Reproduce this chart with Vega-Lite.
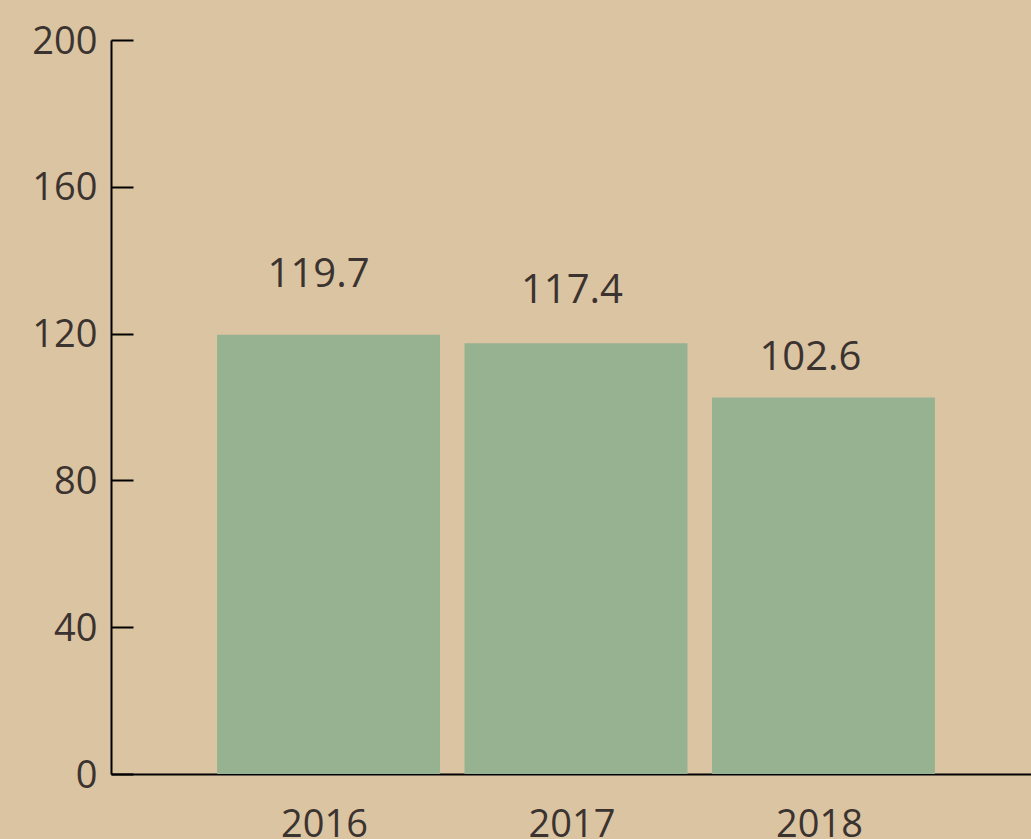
{
  "$schema": "https://vega.github.io/schema/vega-lite/v6.json",
  "autosize": {"type": "none"},
  "padding": {"left": 111, "top": 40, "right": 0, "bottom": 65},
  "width": 930,
  "height": 734,
  "background": "#DBC4A2",
  "config": {
    "view": {"stroke": null},
    "font": "Open Sans",
    "axis": {"grid": false, "domainColor": "#000000", "domainWidth": 2, "tickColor": "#000000", "tickWidth": 2, "labelColor": "#3B3330", "labelFont": "Open Sans", "labelFontSize": 38, "title": null}
  },
  "data": {
    "values": [
      {"year": "2016", "value": 119.7},
      {"year": "2017", "value": 117.4},
      {"year": "2018", "value": 102.6}
    ]
  },
  "encoding": {
    "x": {
      "field": "year", "type": "ordinal",
      "scale": {"paddingInner": 0.099, "paddingOuter": 0.4285},
      "axis": {"labelAngle": 0, "ticks": false, "labelPadding": 32, "labelOffset": -4, "labelBaseline": "top", "domainWidth": 2}
    },
    "y": {
      "field": "value", "type": "quantitative",
      "scale": {"domain": [0, 200], "nice": false},
      "axis": {"values": [0, 40, 80, 120, 160, 200], "tickSize": -22, "labelPadding": 36, "labelOffset": 2, "labelBaseline": "middle"}
    }
  },
  "layer": [
    {"mark": {"type": "bar", "color": "#97B291"}},
    {
      "transform": [{"filter": "datum.year == '2016'"}],
      "mark": {"type": "text", "fontSize": 40, "color": "#3B3330", "baseline": "alphabetic", "dy": -48, "dx": -10},
      "encoding": {"text": {"field": "value", "type": "quantitative", "format": ".1f"}}
    },
    {
      "transform": [{"filter": "datum.year == '2017'"}],
      "mark": {"type": "text", "fontSize": 40, "color": "#3B3330", "baseline": "alphabetic", "dy": -40, "dx": -4},
      "encoding": {"text": {"field": "value", "type": "quantitative", "format": ".1f"}}
    },
    {
      "transform": [{"filter": "datum.year == '2018'"}],
      "mark": {"type": "text", "fontSize": 40, "color": "#3B3330", "baseline": "alphabetic", "dy": -27, "dx": -13},
      "encoding": {"text": {"field": "value", "type": "quantitative", "format": ".1f"}}
    }
  ]
}
